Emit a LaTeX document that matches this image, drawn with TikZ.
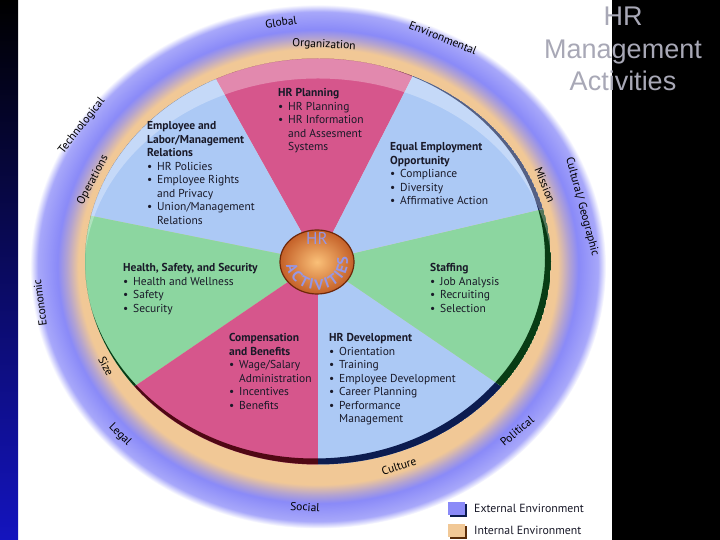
\documentclass[tikz,border=0pt]{standalone}
\usepackage{fontspec}
\setmainfont{PT Sans}
\newfontfamily\titlefont{Liberation Sans}
\usetikzlibrary{decorations.text}
\definecolor{hrpink}{RGB}{214,86,140}
\definecolor{hrblue}{RGB}{172,201,245}
\definecolor{hrgreen}{RGB}{140,214,160}
\definecolor{rimpink}{RGB}{80,8,20}
\definecolor{rimblue}{RGB}{12,28,80}
\definecolor{rimgreen}{RGB}{8,60,20}
\definecolor{rimpeach}{RGB}{90,45,10}
\definecolor{peach}{RGB}{241,200,150}
\definecolor{glowblue}{RGB}{138,138,248}
\definecolor{ballin}{RGB}{250,192,120}
\definecolor{ballout}{RGB}{196,96,40}
\definecolor{ballrim}{RGB}{110,40,10}
\definecolor{lavender}{RGB}{150,150,228}
\definecolor{titlegray}{RGB}{168,168,182}
\definecolor{hrtext}{RGB}{25,25,40}
\definecolor{stripbot}{RGB}{20,20,190}
\pgfdeclareradialshading{envglow}{\pgfpoint{0bp}{0bp}}{color(0bp)=(peach); color(19bp)=(peach); color(20.8bp)=(peach); color(21.8bp)=(glowblue!60!peach); color(22.6bp)=(glowblue); color(24.3bp)=(glowblue!75!white); color(25bp)=(white); color(50bp)=(white)}
\newcommand{\itm}{\makebox[10pt][l]{\textbullet}}
\newcommand{\cnt}{\hspace*{10pt}}
\begin{document}
\begin{tikzpicture}[x=1pt,y=1pt]
\tikzstyle{sect}=[anchor=north west, align=left, inner sep=0pt, text=hrtext, font=\fontsize{11.5}{13.5}\selectfont]
\tikzstyle{env}=[inner sep=0pt, text=black, font=\fontsize{11.5}{11.5}\selectfont]
\tikzstyle{legend}=[anchor=west, inner sep=0pt, text=hrtext, font=\fontsize{11.8}{12}\selectfont]
\def\cx{318}
\def\cy{278.5}

\useasboundingbox (0,0) rectangle (720,540);
\fill[white] (18,0) rectangle (612,540);
\shade[top color=black, bottom color=stripbot] (0,0) rectangle (18,540);
\fill[black] (612,0) rectangle (720,540);

\shade[shading=envglow] (318,273.5) ellipse[x radius=288, y radius=262];

\foreach \a/\b/\col/\rim in {66/116/hrpink/rimpink, 116/167/hrblue/rimblue, 167/218/hrgreen/rimgreen, 218/270/hrpink/rimpink, 270/322/hrblue/rimblue, 322/375/hrgreen/rimgreen, 375/426/hrblue/rimblue}{
  \begin{scope}
  \clip (\cx,\cy) -- ++(\a:233 and 203) arc[start angle=\a, end angle=\b, x radius=233, y radius=203] -- cycle;
  \fill[\col] (\cx,\cy) ellipse[x radius=233, y radius=203];
  \fill[\rim, even odd rule] (\cx,\cy) ellipse[x radius=233, y radius=203] (314.5,282) ellipse[x radius=230.5, y radius=200.5];
  \end{scope}
}
\begin{scope}
\clip (\cx,\cy) ellipse[x radius=233, y radius=203];
\fill[white, opacity=0.3, even odd rule] (\cx,\cy) ellipse[x radius=233, y radius=203] (318,266.5) ellipse[x radius=234, y radius=195];
\end{scope}

\shade[inner color=ballin, outer color=ballout] (317,278) ellipse[x radius=37, y radius=32];
\draw[ballrim, line width=1.2pt] (317,278) ellipse[x radius=37, y radius=32];
\node (hrtop) at (317,301.5) [text=lavender, font=\fontsize{17}{17}\selectfont] {HR};
\path[decorate, decoration={text along path, text color=lavender, text={|\fontsize{15}{15}\selectfont\bfseries|ACTIVITIES}, text align={fit to path}}] (317,278) ++(188:31 and 28) arc[start angle=188, end angle=372, x radius=31, y radius=28];

\node (plan) at (278,451.5) [sect] {\textbf{HR Planning}\\ \itm HR Planning\\ \itm HR Information\\ \cnt and Assesment\\ \cnt Systems};
\node (relations) at (147,418.5) [sect] {\textbf{Employee and}\\ \textbf{Labor/Management}\\ \textbf{Relations}\\ \itm HR Policies\\ \itm Employee Rights\\ \cnt and Privacy\\ \itm Union/Management\\ \cnt Relations};
\node (eeo) at (390,397.5) [sect] {\textbf{Equal Employment}\\ \textbf{Opportunity}\\ \itm Compliance\\ \itm Diversity\\ \itm Affirmative Action};
\node (safety) at (123,276.5) [sect] {\textbf{Health, Safety, and Security}\\ \itm Health and Wellness\\ \itm Safety\\ \itm Security};
\node (staffing) at (430,276.5) [sect] {\textbf{Staffing}\\ \itm Job Analysis\\ \itm Recruiting\\ \itm Selection};
\node (comp) at (229,206.5) [sect] {\textbf{Compensation}\\ \textbf{and Benefits}\\ \itm Wage/Salary\\ \cnt Administration\\ \itm Incentives\\ \itm Benefits};
\node (dev) at (329,206.5) [sect] {\textbf{HR Development}\\ \itm Orientation\\ \itm Training\\ \itm Employee Development\\ \itm Career Planning\\ \itm Performance\\ \cnt Management};

\node (global) at (281,518) [env, rotate=8] {Global};
\node (organization) at (324,495) [env, rotate=-3] {Organization};
\node (environmental) at (443,502) [env, rotate=-22] {Environmental};
\node (technological) at (82,414) [env, rotate=52] {Technological};
\node (operations) at (93,360) [env, rotate=62] {Operations};
\node (economic) at (40,237) [env, rotate=97] {Economic};
\node (size) at (106,174) [env, rotate=-62] {Size};
\node (legal) at (120,105) [env, rotate=-45] {Legal};
\node (social) at (305,33) [env, rotate=-3] {Social};
\node (culture) at (399,74) [env, rotate=18] {Culture};
\node (political) at (517,109) [env, rotate=40] {Political};
\node (mission) at (545,355) [env, rotate=-68] {Mission};
\node (cultural) at (582,333) [env, rotate=-75] {Cultural/ Geographic};

\fill[rimblue] (450,23) rectangle (467,36);
\fill[glowblue] (448,25) rectangle (465,38);
\fill[rimpeach] (450,1) rectangle (467,14);
\fill[peach] (448,3) rectangle (465,16);
\node (external) at (474,31.5) [legend] {External Environment};
\node (internal) at (474,9.5) [legend] {Internal Environment};

\node (title) at (623,491) [align=center, text=titlegray, font=\titlefont\fontsize{27}{32.5}\selectfont] {HR\\Management\\Activities};
\end{tikzpicture}
\end{document}
